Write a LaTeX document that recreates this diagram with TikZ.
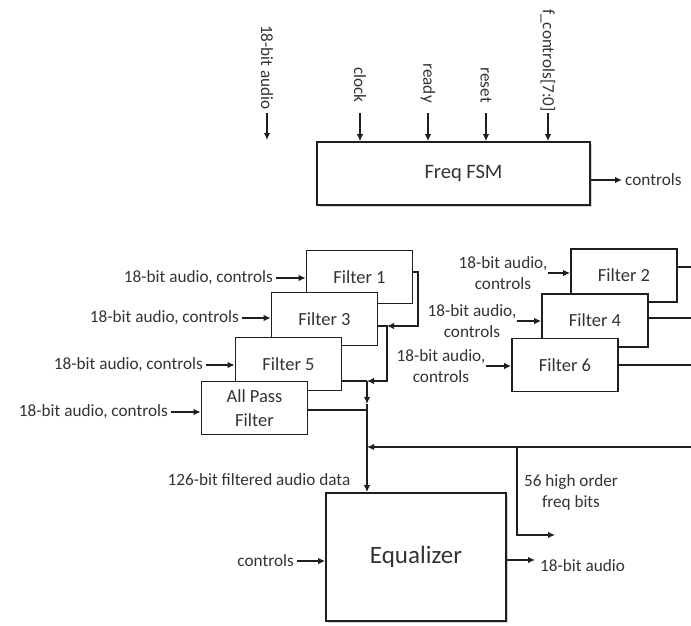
\documentclass[tikz,border=0pt]{standalone}
\usepackage{fontspec}
\setmainfont{Carlito}
\usetikzlibrary{arrows.meta,shadows}
\definecolor{linec}{HTML}{1E1E1E}
\definecolor{txt}{HTML}{333333}
\begin{document}
\begin{tikzpicture}[x=1pt,y=-1pt,
  arr/.style={-{Latex[length=7pt,width=6.5pt]}, line width=1.4pt, draw=linec},
  wire/.style={line width=1.4pt, draw=linec},
  box/.style={draw=linec, line width=1.6pt, fill=white, minimum width=106pt, minimum height=53pt,
    font=\fontsize{18.5}{22}\selectfont, text=txt, inner sep=0pt},
  bigbox/.style={box, drop shadow={opacity=0.35, shadow xshift=2pt, shadow yshift=-2pt}},
  lbl/.style={text=txt, font=\fontsize{17.2}{21}\selectfont, inner sep=3pt},
  vlbl/.style={lbl, rotate=-90, anchor=east},
]
\useasboundingbox (0,0) rectangle (691,626);

% ---------- Freq FSM ----------
\node[bigbox, minimum width=273pt, minimum height=63pt, font=\fontsize{20.5}{24}\selectfont] (fsm) at (453.5,173.5) {\hspace*{20pt}Freq FSM};

\node[vlbl, inner xsep=3pt] (au) at (267,113) {18-bit audio};
\coordinate (au0) at (267,140);
\draw[arr] (au.east) -- (au0);

\node[vlbl, inner xsep=10pt] (clk) at (360,113) {clock};
\node[vlbl, inner xsep=10pt] (rdy) at (428,113) {ready};
\node[vlbl, inner xsep=10pt] (rst) at (486,113) {reset};
\node[vlbl, inner xsep=1pt] (fc) at (548,113) {f\_controls[7:0]};
\foreach \n in {clk,rdy,rst,fc}
  \draw[arr] (\n.east) -- (\n.east |- fsm.north);

\node[lbl, anchor=west] (ctl) at (622,180) {controls};
\draw[arr] (fsm.east |- ctl.west) -- (ctl.west);

% ---------- left filter stack ----------
\node[box] (f1) at (359.5,277) {Filter 1};
\node[box] (f3) at (324.5,319) {Filter 3};
\node[box] (f5) at (288.5,364) {Filter 5};
\node[box, align=center, font=\fontsize{18.5}{24}\selectfont] (ap) at (254.5,408) {All Pass\\Filter};

\node[lbl, anchor=east] (i1) at (276,278) {18-bit audio, controls};
\draw[arr] (i1.east) -- (i1.east -| f1.west);
\node[lbl, anchor=east] (i3) at (242,318) {18-bit audio, controls};
\draw[arr] (i3.east) -- (i3.east -| f3.west);
\node[lbl, anchor=east] (i5) at (206,365) {18-bit audio, controls};
\draw[arr] (i5.east) -- (i5.east -| f5.west);
\node[lbl, anchor=east] (ia) at (171,412) {18-bit audio, controls};
\draw[arr] (ia.east) -- (ia.east -| ap.west);

% ---------- right filter stack ----------
\node[box] (f2) at (624,275.5) {Filter 2};
\node[box] (f4) at (595,320.5) {Filter 4};
\node[box] (f6) at (565,365) {Filter 6};

\node[lbl, align=center, inner sep=0pt] (i2) at (503,273) {18-bit audio,\\controls};
\draw[arr] (i2.east) -- (i2.east -| f2.west);
\node[lbl, align=center, inner sep=0pt] (i4) at (472,321) {18-bit audio,\\controls};
\draw[arr] (i4.east) -- (i4.east -| f4.west);
\node[lbl, align=center, inner sep=0pt] (i6) at (441,366) {18-bit audio,\\controls};
\draw[arr] (i6.east) -- (i6.east -| f6.west);

\coordinate (o2) at (691,267);
\coordinate (o4) at (691,318);
\coordinate (o6) at (691,365);
\draw[wire] (o2 -| f2.east) -- (o2);
\draw[wire] (o4 -| f4.east) -- (o4);
\draw[wire] (o6 -| f6.east) -- (o6);

% ---------- Equalizer ----------
\node[bigbox, minimum width=180pt, minimum height=128pt, font=\fontsize{25}{29}\selectfont] (eq) at (416,557) {Equalizer};

% ---------- merging wires ----------
\coordinate (o1) at (418,272);
\coordinate (m3) at (387,326);
\coordinate (m5) at (367,381);
\coordinate (ao) at (367,410);
\coordinate (ma) at (367,404);
\coordinate (bus) at (367,447);
\coordinate (bR) at (691,447);
\coordinate (br) at (517,447);
\coordinate (bo) at (555,535);

\draw[arr] (o1 -| f1.east) -- (o1) -- (o1 |- m3) -- (m3);
\draw[arr] (m3 -| f3.east) -- (m3) -- (m3 |- m5) -- (m5);
\draw[wire] (m5 -| f5.east) -- (m5);
\draw[arr] (m5) -- (ma);
\draw[wire] (ao -| ap.east) -- (ao);
\draw[arr] (ma) -- (ma |- eq.north);
\draw[arr] (bR) -- (bus);
\draw[arr] (br) -- (br |- bo) -- (bo);

\node[lbl] (fa) at (259,480) {126-bit filtered audio data};
\node[lbl, align=center] (hb) at (571,492) {56 high order\\freq bits};

\node[lbl, anchor=east] (ec) at (297,561) {controls};
\draw[arr] (ec.east) -- (ec.east -| eq.west);
\coordinate (eo) at (535,560);
\draw[arr] (eo -| eq.east) -- (eo);
\node[lbl, anchor=west] (eout) at (537,566) {18-bit audio};
\end{tikzpicture}
\end{document}
